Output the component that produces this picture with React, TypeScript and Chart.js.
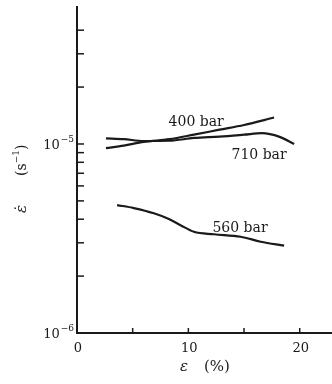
import React, { useEffect, useRef } from "react";
import { Chart, registerables } from "chart.js";

Chart.register(...registerables);

// Strain (%) and creep rate (s^-1) for each confining pressure
const eps400 = [2.6, 4.2, 6.0, 8.3, 10.5, 12.8, 15.0, 17.7];
const rate400 = [9.5e-6, 9.8e-6, 1.025e-5, 1.06e-5, 1.12e-5, 1.19e-5, 1.26e-5, 1.38e-5];

const eps710 = [2.6, 4.2, 6.0, 8.3, 10.5, 12.8, 15.0, 16.6, 18.2, 19.5];
const rate710 = [1.07e-5, 1.06e-5, 1.037e-5, 1.04e-5, 1.076e-5, 1.095e-5, 1.12e-5, 1.14e-5, 1.09e-5, 1.0e-5];

const eps560 = [3.6, 5.1, 6.9, 8.25, 9.3, 10.5, 12.3, 14.7, 16.5, 18.6];
const rate560 = [4.75e-6, 4.58e-6, 4.3e-6, 4.01e-6, 3.72e-6, 3.43e-6, 3.33e-6, 3.23e-6, 3.04e-6, 2.9e-6];

const seriesNames = ["400 bar", "710 bar", "560 bar"];
// label anchor positions in data units [strain, rate]
const labelAnchors: [number, number][] = [
  [10.7, 1.306e-5],
  [16.35, 8.74e-6],
  [14.64, 3.59e-6],
];

const xTickMarks = [0, 5, 10, 15, 20];
const xTickLabels = [0, 10, 20];
const yTickMarks = [2e-6, 3e-6, 4e-6, 5e-6, 6e-6, 7e-6, 8e-6, 9e-6, 1e-5, 2e-5, 3e-5, 4e-5];
const yTickLabels: [number, string][] = [
  [1e-6, "6"],
  [1e-5, "5"],
];

const INK = "#1a1a1a";
const FONT = "'DejaVu Serif', 'Liberation Serif', serif";

const toPts = (xs: number[], ys: number[]) => xs.map((x, i) => ({ x, y: ys[i] }));

const axesPlugin = {
  id: "sketchAxes",
  afterDatasetsDraw(chart: any) {
    const { ctx, chartArea, scales } = chart;
    const xs = scales.x;
    const ys = scales.y;
    ctx.save();
    ctx.strokeStyle = INK;
    ctx.fillStyle = INK;
    ctx.lineWidth = 2;
    // axes lines
    ctx.beginPath();
    ctx.moveTo(chartArea.left, chartArea.top);
    ctx.lineTo(chartArea.left, chartArea.bottom);
    ctx.lineTo(chartArea.right, chartArea.bottom);
    ctx.stroke();
    // y ticks (inward)
    ctx.lineWidth = 1.5;
    yTickMarks.forEach((v) => {
      const py = ys.getPixelForValue(v);
      ctx.beginPath();
      ctx.moveTo(chartArea.left, py);
      ctx.lineTo(chartArea.left + 7, py);
      ctx.stroke();
    });
    // x ticks (inward)
    xTickMarks.forEach((v) => {
      const px = xs.getPixelForValue(v);
      ctx.beginPath();
      ctx.moveTo(px, chartArea.bottom);
      ctx.lineTo(px, chartArea.bottom - 5);
      ctx.stroke();
    });
    // x tick labels
    ctx.font = `13px ${FONT}`;
    ctx.textAlign = "center";
    ctx.textBaseline = "middle";
    xTickLabels.forEach((v) => {
      const px = xs.getPixelForValue(v);
      ctx.fillText(String(v), px + 1, chartArea.bottom + 16);
    });
    // y tick labels 10^-n
    yTickLabels.forEach(([v, exp]) => {
      const py = ys.getPixelForValue(v);
      const right = chartArea.left - 3;
      ctx.font = `9px ${FONT}`;
      ctx.textAlign = "right";
      ctx.textBaseline = "middle";
      const sup = "\u2212" + exp;
      const supW = ctx.measureText(sup).width;
      ctx.fillText(sup, right, py - 4);
      ctx.font = `13px ${FONT}`;
      ctx.fillText("10", right - supW - 1, py + 2);
    });
    // axis titles
    ctx.font = `italic 15px ${FONT}`;
    ctx.textAlign = "left";
    ctx.textBaseline = "middle";
    ctx.fillText("\u03b5", 180, 367);
    ctx.font = `15px ${FONT}`;
    ctx.fillText("(%)", 204, 367);
    // y title rotated
    ctx.save();
    ctx.translate(22, 0);
    ctx.rotate(-Math.PI / 2);
    ctx.textAlign = "center";
    ctx.font = `italic 15px ${FONT}`;
    ctx.fillText("\u03b5\u0307", -209, 0);
    ctx.font = `14px ${FONT}`;
    ctx.textAlign = "left";
    ctx.fillText("(s", -176, 0);
    const w = ctx.measureText("(s").width;
    ctx.font = `9px ${FONT}`;
    ctx.fillText("\u22121", -176 + w, -5);
    const w2 = ctx.measureText("\u22121").width;
    ctx.font = `14px ${FONT}`;
    ctx.fillText(")", -176 + w + w2, 0);
    ctx.restore();
    // series labels
    ctx.font = `14px ${FONT}`;
    ctx.textAlign = "center";
    ctx.textBaseline = "middle";
    seriesNames.forEach((name, i) => {
      const [lx, ly] = labelAnchors[i];
      ctx.fillText(name, xs.getPixelForValue(lx), ys.getPixelForValue(ly));
    });
    ctx.restore();
  },
};

export default function App() {
  const ref = useRef<HTMLCanvasElement>(null);
  useEffect(() => {
    if (!ref.current) return;
    const chart = new Chart(ref.current, {
      type: "line",
      data: {
        datasets: [
          { label: seriesNames[0], data: toPts(eps400, rate400) },
          { label: seriesNames[1], data: toPts(eps710, rate710) },
          { label: seriesNames[2], data: toPts(eps560, rate560) },
        ],
      },
      options: {
        animation: false,
        responsive: false,
        maintainAspectRatio: false,
        layout: { padding: { left: 77, top: 6, right: 0, bottom: 51 } },
        plugins: { legend: { display: false }, tooltip: { enabled: false } },
        elements: {
          point: { radius: 0 },
          line: {
            borderColor: INK,
            borderWidth: 2.2,
            tension: 0.4,
            cubicInterpolationMode: "monotone",
            fill: false,
          },
        },
        scales: {
          x: { type: "linear", min: 0, max: 22.9, display: false },
          y: { type: "logarithmic", min: 1e-6, max: 5.37e-5, display: false },
        },
      },
      plugins: [axesPlugin],
    });
    return () => chart.destroy();
  }, []);
  return (
    <div style={{ position: "absolute", left: 0, top: 0, width: 332, height: 384, background: "#fff" }}>
      <canvas ref={ref} width={332} height={384} style={{ display: "block", width: 332, height: 384 }} />
    </div>
  );
}
